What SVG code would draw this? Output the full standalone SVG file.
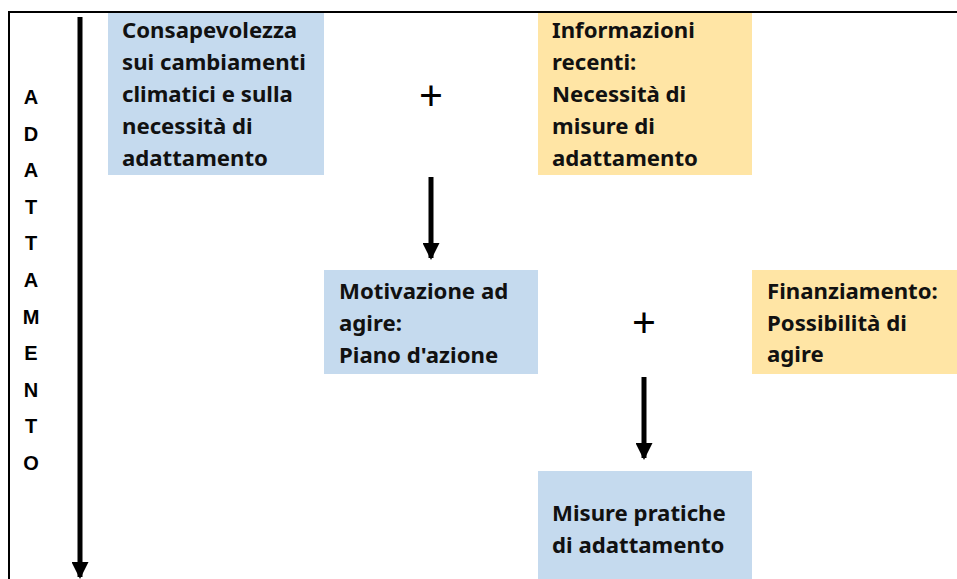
<svg xmlns="http://www.w3.org/2000/svg" width="957" height="579" viewBox="0 0 957 579">
<style>
.bl{fill:#c5daee}
.ye{fill:#ffe5a5}
.t{font-family:"Noto Sans",sans-serif;font-weight:700;font-size:22.2px;fill:#111}
.v{font-family:"Liberation Sans",Arial,sans-serif;font-weight:700;font-size:20px;fill:#000;text-anchor:middle}
.p{font-family:"Noto Sans",sans-serif;font-weight:400;font-size:42px;fill:#000;text-anchor:middle}
.c{stroke:#000;stroke-width:5;fill:none}
</style>
<defs>
<marker id="ah" markerUnits="userSpaceOnUse" markerWidth="17" markerHeight="17" refX="15" refY="8.5" orient="auto" viewBox="0 0 17 17">
<path d="M0,0 L17,8.5 L0,17 z" fill="#000"/>
</marker>
</defs>
<rect width="957" height="579" fill="#fff"/>
<g id="frame">
<line x1="8" y1="12" x2="957" y2="12" stroke="#000" stroke-width="2"/>
<line x1="9" y1="11" x2="9" y2="579" stroke="#000" stroke-width="2"/>
</g>
<g id="label-adattamento">
<text class="v" x="31" y="104">A</text>
<text class="v" x="31" y="140.6">D</text>
<text class="v" x="31" y="177.2">A</text>
<text class="v" x="31" y="213.8">T</text>
<text class="v" x="31" y="250.4">T</text>
<text class="v" x="31" y="287">A</text>
<text class="v" x="31" y="323.6">M</text>
<text class="v" x="31" y="360.2">E</text>
<text class="v" x="31" y="396.8">N</text>
<text class="v" x="31" y="433.4">T</text>
<text class="v" x="31" y="470">O</text>
</g>
<g id="connectors">
<line class="c" x1="80" y1="17" x2="80" y2="577" marker-end="url(#ah)"/>
<line class="c" x1="431" y1="177" x2="431" y2="258" marker-end="url(#ah)"/>
<line class="c" x1="644" y1="377" x2="644" y2="458" marker-end="url(#ah)"/>
</g>
<g id="node-consapevolezza">
<rect class="bl" x="108" y="13" width="216" height="162"/>
<text class="t" x="122" y="38">Consapevolezza</text>
<text class="t" x="122" y="70">sui cambiamenti</text>
<text class="t" x="122" y="102">climatici e sulla</text>
<text class="t" x="122" y="134">necessità di</text>
<text class="t" x="122" y="166">adattamento</text>
</g>
<g id="node-informazioni">
<rect class="ye" x="538" y="13" width="214" height="162"/>
<text class="t" x="552" y="38">Informazioni</text>
<text class="t" x="552" y="70">recenti:</text>
<text class="t" x="552" y="102">Necessità di</text>
<text class="t" x="552" y="134">misure di</text>
<text class="t" x="552" y="166">adattamento</text>
</g>
<g id="plus-1"><text class="p" x="431" y="111">+</text></g>
<g id="node-motivazione">
<rect class="bl" x="324" y="270" width="214" height="104"/>
<text class="t" x="339" y="299">Motivazione ad</text>
<text class="t" x="339" y="331">agire:</text>
<text class="t" x="339" y="363">Piano d'azione</text>
</g>
<g id="plus-2"><text class="p" x="644" y="338">+</text></g>
<g id="node-finanziamento">
<rect class="ye" x="752" y="270" width="205" height="104"/>
<text class="t" x="767" y="299">Finanziamento:</text>
<text class="t" x="767" y="331">Possibilità di</text>
<text class="t" x="767" y="362">agire</text>
</g>
<g id="node-misure">
<rect class="bl" x="538" y="471" width="214" height="108"/>
<text class="t" x="552" y="521">Misure pratiche</text>
<text class="t" x="552" y="553">di adattamento</text>
</g>
</svg>
